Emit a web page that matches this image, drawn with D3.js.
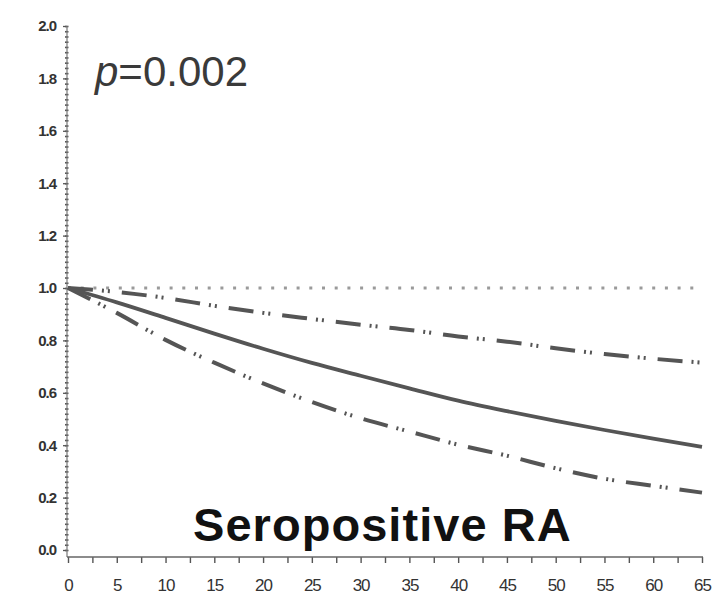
<!DOCTYPE html>
<meta charset="utf-8">
<script src="https://d3js.org/d3.v7.min.js"></script>
<style>
  body { margin: 0; background: #fff; }
  text { font-family: "Liberation Sans", Arial, sans-serif; }
</style>
<div id="chart"></div>
<script>
    // Years of follow-up and estimated ratios
    const years = [0, 5, 10, 15, 20, 25, 30, 35, 40, 45, 50, 55, 60, 65];
    const estimate = [1.0, 0.945, 0.886, 0.826, 0.768, 0.714, 0.665, 0.617, 0.570, 0.530, 0.493, 0.458, 0.425, 0.394];
    const upperCI = [1.0, 0.985, 0.962, 0.932, 0.905, 0.882, 0.860, 0.840, 0.815, 0.795, 0.770, 0.748, 0.730, 0.715];
    const lowerCI = [1.0, 0.905, 0.802, 0.715, 0.636, 0.565, 0.503, 0.452, 0.402, 0.360, 0.312, 0.272, 0.245, 0.219];
    const yTicks = [0, 0.2, 0.4, 0.6, 0.8, 1.0, 1.2, 1.4, 1.6, 1.8, 2.0];
    const xTicks = [0, 5, 10, 15, 20, 25, 30, 35, 40, 45, 50, 55, 60, 65];
    const reference = 1.0;
    const pLabel = "=0.002";
    const title = "Seropositive RA";

    const width = 725, height = 603;

    const svg = d3.select("#chart")
        .append("svg")
        .attr("width", width)
        .attr("height", height);

    const x = d3.scaleLinear().domain([0, 65]).range([68, 702]);
    const y = d3.scaleLinear().domain([0, 2]).range([550, 26]);
    const axisY = 557, axisX = 67;

    // y axis: major ticks with labels, tiny minor ticks every 0.02
    const yAxis = svg.append("g")
        .attr("transform", `translate(${axisX},0)`)
        .call(d3.axisLeft(y).tickValues(yTicks).tickFormat(d3.format(".1f")).tickSize(4).tickPadding(7));
    svg.append("g")
        .attr("transform", `translate(${axisX + 1.5},0)`)
        .call(d3.axisLeft(y).tickValues(d3.range(0, 2.001, 0.02)).tickFormat("").tickSize(3.5))
        .call(g => g.select(".domain").remove())
        .selectAll("line").attr("stroke", "#555").attr("stroke-width", 1.6);
    yAxis.select(".domain").remove();
    yAxis.selectAll("line").attr("stroke", "#555").attr("stroke-width", 1.3);
    yAxis.selectAll("text")
        .attr("fill", "#333")
        .style("font-size", "15px")
        .style("font-weight", "bold")
        .style("letter-spacing", "-1px");

    svg.append("line")
        .attr("x1", axisX).attr("x2", axisX)
        .attr("y1", y(2)).attr("y2", axisY)
        .attr("stroke", "#777").attr("stroke-width", 1.2);

    // x axis: ticks every 2.5, labels every 5
    const xAxis = svg.append("g")
        .attr("transform", `translate(0,${axisY})`)
        .call(d3.axisBottom(x).tickValues(d3.range(0, 65.01, 2.5))
            .tickFormat(d => xTicks.includes(d) ? d : "").tickSize(6).tickPadding(16));
    xAxis.select(".domain").remove();
    xAxis.selectAll("line").attr("stroke", "#555").attr("stroke-width", 1.4);
    xAxis.selectAll("text")
        .attr("fill", "#333")
        .style("font-size", "17px")
        .style("letter-spacing", "-1px");

    svg.append("line")
        .attr("x1", axisX).attr("x2", x(65) + 1)
        .attr("y1", axisY).attr("y2", axisY)
        .attr("stroke", "#666").attr("stroke-width", 1.3);

    // reference line at 1.0
    svg.append("line")
        .attr("x1", x(0)).attr("x2", x(65))
        .attr("y1", y(reference)).attr("y2", y(reference))
        .attr("stroke", "#9a9a9a")
        .attr("stroke-width", 3)
        .attr("stroke-dasharray", "3,9.7");

    const line = d3.line()
        .x((d, i) => x(years[i]))
        .y(d => y(d))
        .curve(d3.curveMonotoneX);

    [upperCI, lowerCI].forEach(series => {
        svg.append("path")
            .datum(series)
            .attr("d", line)
            .attr("fill", "none")
            .attr("stroke", "#555")
            .attr("stroke-width", 4)
            .attr("stroke-dasharray", "25,9,2,4,2,12");
    });

    svg.append("path")
        .datum(estimate)
        .attr("d", line)
        .attr("fill", "none")
        .attr("stroke", "#555")
        .attr("stroke-width", 3.8);

    // p value
    const pText = svg.append("text")
        .attr("x", 95)
        .attr("y", 86)
        .attr("fill", "#3a3a3a")
        .style("font-size", "42px");
    pText.append("tspan").style("font-style", "italic").text("p");
    pText.append("tspan").text(pLabel);

    // panel title
    svg.append("text")
        .attr("x", 193)
        .attr("y", 541)
        .attr("fill", "#111")
        .style("font-size", "47px")
        .style("font-weight", "bold")
        .style("letter-spacing", "-0.6px")
        .attr("textLength", 377)
        .text(title);
</script>
